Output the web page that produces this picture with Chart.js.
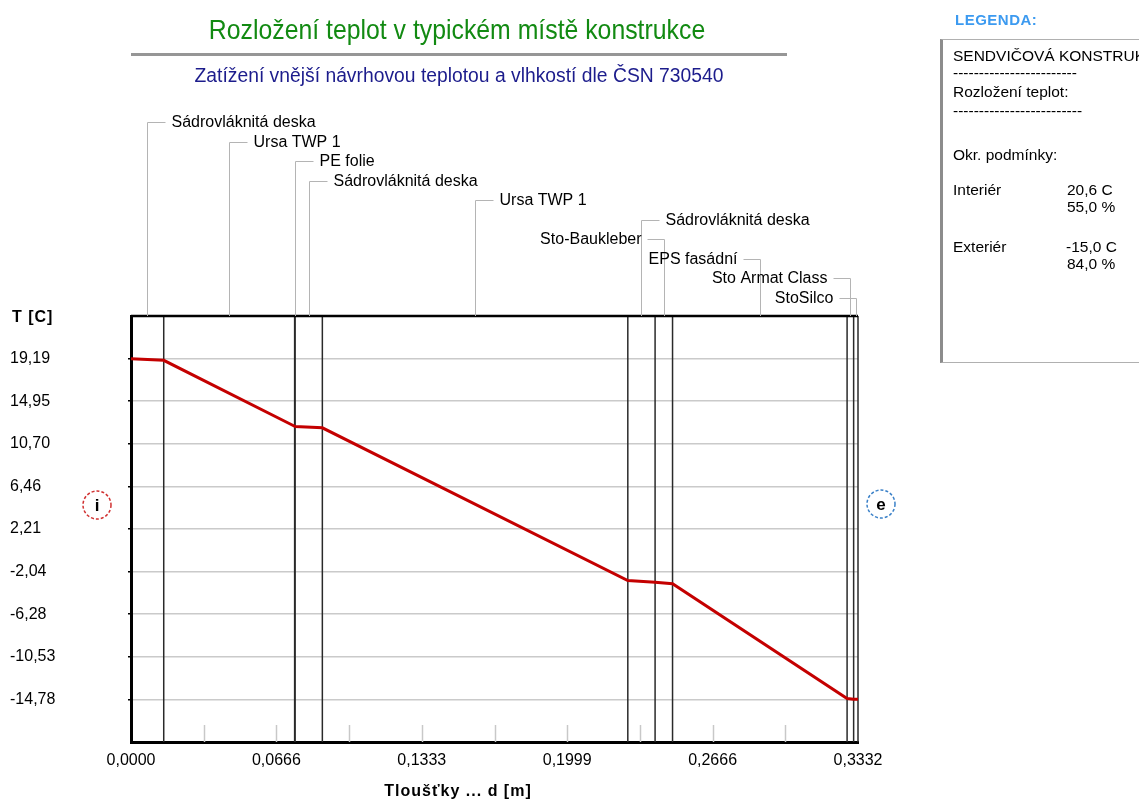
<!DOCTYPE html>
<html lang="cs">
<head>
<meta charset="UTF-8">
<title>Rozložení teplot</title>
<script src="https://cdn.jsdelivr.net/npm/chart.js@4.4.0/dist/chart.umd.min.js"></script>
<style>
  html, body { margin: 0; padding: 0; background: #fff; overflow: hidden; }
  #wrap { position: relative; width: 1139px; height: 802px; font-family: 'Liberation Sans', Arial, sans-serif; }
  #box { position: absolute; left: 0; top: 0; width: 1139px; height: 802px; }
  #titulek { position: absolute; left: 0; width: 914px; top: 13px; text-align: center;
             font-size: 28px; line-height: 34px; color: #128a12; transform: scaleX(0.886); }
  #cara { position: absolute; left: 131px; top: 53px; width: 656px; height: 3px; background: #969696; }
  #podtitulek { position: absolute; left: 0; width: 918px; top: 63px; text-align: center;
                font-size: 20px; line-height: 24px; color: #1c1c8c; transform: scaleX(0.965); }
  #legNadpis { position: absolute; left: 955px; top: 11px; font-size: 15px; font-weight: bold; color: #3c9af0; letter-spacing: 0.5px; }
  #legenda { position: absolute; left: 940px; top: 39px; width: 240px; height: 322px;
             border: 1px solid #b0b0b0; border-left: 3px solid #8c8c8c; }
  .r { position: absolute; font-size: 15.5px; line-height: 17px; white-space: nowrap; color: #000; }
</style>
</head>
<body>
<div id="wrap">
  <div id="box"><canvas id="graf"></canvas></div>
  <div id="titulek">Rozložení teplot v typickém místě konstrukce</div>
  <div id="cara"></div>
  <div id="podtitulek">Zatížení vnější návrhovou teplotou a vlhkostí dle ČSN 730540</div>
  <div id="legNadpis">LEGENDA:</div>
  <div id="legenda">
    <div class="r" style="left:10px;top:7px">SENDVIČOVÁ KONSTRUKCE</div>
    <div class="r" style="left:10px;top:24px">------------------------</div>
    <div class="r" style="left:10px;top:43px">Rozložení teplot:</div>
    <div class="r" style="left:10px;top:62px">-------------------------</div>
    <div class="r" style="left:10px;top:106px">Okr. podmínky:</div>
    <div class="r" style="left:10px;top:141px">Interiér</div>
    <div class="r" style="left:124px;top:141px">20,6 C</div>
    <div class="r" style="left:124px;top:158px">55,0 %</div>
    <div class="r" style="left:10px;top:198px">Exteriér</div>
    <div class="r" style="left:123px;top:198px">-15,0 C</div>
    <div class="r" style="left:124px;top:215px">84,0 %</div>
  </div>
</div>
<script>
// vrstvy konstrukce (od interieru) a jejich tloustky v m
const vrstvy = ['Sádrovláknitá deska', 'Ursa TWP 1', 'PE folie', 'Sádrovláknitá deska', 'Ursa TWP 1',
                'Sádrovláknitá deska', 'Sto-Baukleber', 'EPS fasádní', 'Sto Armat Class', 'StoSilco'];
const tloustky = [0.015, 0.06, 0.0002, 0.0125, 0.14, 0.0125, 0.008, 0.08, 0.003, 0.002];

// teploty na rozhrani vrstev (0 .. 0,3332 m)
const teploty = [19.19, 19.02, 12.45, 12.43, 12.29, -2.94, -3.10, -3.25, -14.70, -14.76, -14.78];

const xTicks = [0, 0.06664, 0.13328, 0.19992, 0.26656, 0.3332];
const xPopisky = ['0,0000', '0,0666', '0,1333', '0,1999', '0,2666', '0,3332'];
const xPomocne = [0.03332, 0.06664, 0.09996, 0.13328, 0.1666, 0.19992, 0.23324, 0.26656, 0.29988];
const yTicks = [19.19, 14.95, 10.70, 6.46, 2.21, -2.04, -6.28, -10.53, -14.78];
const yPopisky = ['19,19', '14,95', '10,70', '6,46', '2,21', '-2,04', '-6,28', '-10,53', '-14,78'];

const pismo = "'Liberation Sans', Arial, sans-serif";

// rozhrani = kumulativni soucet tloustek
const rozhrani = [0];
tloustky.forEach(t => rozhrani.push(+(rozhrani[rozhrani.length - 1] + t).toFixed(4)));

const konstrukce = {
  id: 'konstrukce',
  beforeDatasetsDraw(chart) {
    const {ctx, chartArea: a, scales: {x}} = chart;
    ctx.save();
    // kratke pomocne carky dole
    ctx.strokeStyle = '#c8c8c8';
    ctx.lineWidth = 1.5;
    xPomocne.forEach(v => {
      const px = Math.round(x.getPixelForValue(v)) + 0.5;
      ctx.beginPath(); ctx.moveTo(px, a.bottom - 17); ctx.lineTo(px, a.bottom); ctx.stroke();
    });
    // hranice vrstev
    ctx.strokeStyle = '#2a2a2a';
    ctx.lineWidth = 1.5;
    rozhrani.slice(1).forEach(v => {
      const px = x.getPixelForValue(v);
      ctx.beginPath(); ctx.moveTo(px, a.top); ctx.lineTo(px, a.bottom); ctx.stroke();
    });
    // horni okraj
    ctx.strokeStyle = '#000';
    ctx.lineWidth = 2.5;
    ctx.beginPath(); ctx.moveTo(a.left, a.top); ctx.lineTo(a.right, a.top); ctx.stroke();
    ctx.restore();
  },
  afterDraw(chart) {
    const {ctx, chartArea: a, scales: {x}} = chart;
    ctx.save();
    // popisky vrstev s odkazovymi carami
    ctx.font = '16px ' + pismo;
    ctx.textBaseline = 'middle';
    ctx.strokeStyle = '#b4b4b4';
    ctx.lineWidth = 1;
    ctx.fillStyle = '#000';
    vrstvy.forEach((nazev, i) => {
      const cx = Math.round(x.getPixelForValue(rozhrani[i] + tloustky[i] / 2)) + 0.5;
      const ry = Math.round(122 + i * 19.5) + 0.5;
      ctx.beginPath();
      ctx.moveTo(cx, a.top);
      ctx.lineTo(cx, ry);
      if (i < 6) {
        ctx.lineTo(cx + 18, ry);
        ctx.stroke();
        ctx.textAlign = 'left';
        ctx.fillText(nazev, cx + 24, ry);
      } else {
        ctx.lineTo(cx - 17, ry);
        ctx.stroke();
        ctx.textAlign = 'right';
        ctx.fillText(nazev, cx - 23, ry);
      }
    });
    // nazvy os
    ctx.font = 'bold 16px ' + pismo;
    ctx.letterSpacing = '1px';
    ctx.textAlign = 'left';
    ctx.fillText('T [C]', 12, 318);
    ctx.textAlign = 'center';
    ctx.fillText('Tloušťky ... d [m]', 458, 792);
    // kolecka i / e
    const kolecko = (cx, cy, barva, znak) => {
      ctx.setLineDash([3, 2]);
      ctx.strokeStyle = barva;
      ctx.lineWidth = 1.5;
      ctx.beginPath(); ctx.arc(cx, cy, 14, 0, Math.PI * 2); ctx.stroke();
      ctx.setLineDash([]);
      ctx.letterSpacing = '0px';
      ctx.font = 'bold 17px ' + pismo;
      ctx.textAlign = 'center';
      ctx.fillStyle = '#000';
      ctx.fillText(znak, cx, cy + 1);
    };
    kolecko(97, 505, '#d03030', 'i');
    kolecko(881, 504, '#3a80c8', 'e');
    ctx.restore();
  }
};

new Chart(document.getElementById('graf'), {
  type: 'line',
  data: {
    datasets: [{
      data: rozhrani.map((v, i) => ({x: v, y: teploty[i]})),
      borderColor: '#c40000',
      borderWidth: 3,
      pointRadius: 0,
      tension: 0,
      fill: false
    }]
  },
  options: {
    responsive: true,
    maintainAspectRatio: false,
    animation: false,
    layout: {padding: {left: 10, top: 316, right: 281, bottom: 0}},
    plugins: {legend: {display: false}, tooltip: {enabled: false}},
    scales: {
      x: {
        type: 'linear', min: 0, max: 0.3332,
        afterBuildTicks: s => { s.ticks = xTicks.map(v => ({value: v})); },
        afterFit: s => { s.height = 60; },
        ticks: {callback: (v, i) => xPopisky[i], color: '#000', font: {family: pismo, size: 16},
                padding: 9, maxRotation: 0, autoSkip: false},
        grid: {display: false, drawTicks: false},
        border: {display: true, color: '#000', width: 3}
      },
      y: {
        min: -19.03, max: 23.44,
        afterBuildTicks: s => { s.ticks = yTicks.map(v => ({value: v})); },
        afterFit: s => { s.width = 121; },
        ticks: {callback: (v, i) => yPopisky[i], color: '#000', font: {family: pismo, size: 16},
                crossAlign: 'far', autoSkip: false},
        grid: {color: '#cacaca', lineWidth: 1.5, drawTicks: true, tickLength: 3, tickColor: '#000'},
        border: {display: true, color: '#000', width: 3}
      }
    }
  },
  plugins: [konstrukce]
});
</script>
</body>
</html>
